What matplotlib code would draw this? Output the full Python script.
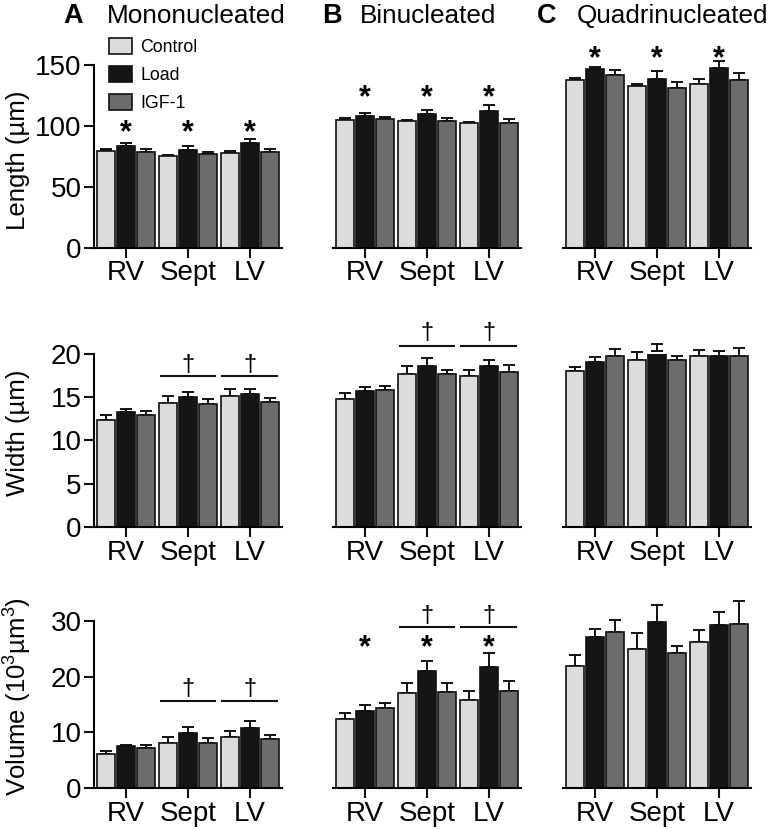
import matplotlib
matplotlib.use("Agg")
import matplotlib.pyplot as plt
import numpy as np

plt.rcParams['font.family'] = ['Liberation Sans', 'DejaVu Sans']
plt.rcParams['mathtext.fontset'] = 'custom'
plt.rcParams['mathtext.rm'] = 'Liberation Sans'
plt.rcParams['mathtext.it'] = 'Liberation Sans:italic'
plt.rcParams['mathtext.bf'] = 'Liberation Sans:bold'

groups = ['RV', 'Sept', 'LV']
series = ['Control', 'Load', 'IGF-1']
colors = ['#dcdcdc', '#151515', '#6c6c6c']

# Length (µm)
len_mono = [[79.5, 75.4, 77.6], [83.6, 80.3, 85.8], [78.7, 77.3, 78.4]]
len_mono_err = [[2.0, 0.8, 1.9], [2.2, 3.3, 3.3], [2.2, 1.4, 2.5]]
len_bi = [[104.9, 103.8, 102.2], [108.4, 109.6, 112.3], [105.5, 104.4, 102.7]]
len_bi_err = [[1.9, 1.1, 1.1], [2.5, 3.5, 4.7], [1.9, 2.4, 3.0]]
len_quad = [[137.7, 132.8, 134.4], [146.4, 138.8, 147.5], [141.8, 131.1, 137.4]]
len_quad_err = [[1.6, 1.6, 3.9], [2.2, 6.3, 6.0], [3.8, 5.2, 6.3]]

# Width (µm)
wid_mono = [[12.4, 14.3, 15.2], [13.3, 15.0, 15.4], [13.0, 14.2, 14.4]]
wid_mono_err = [[0.6, 0.8, 0.8], [0.3, 0.6, 0.5], [0.4, 0.6, 0.55]]
wid_bi = [[14.8, 17.7, 17.4], [15.7, 18.6, 18.6], [15.85, 17.65, 17.96]]
wid_bi_err = [[0.65, 0.9, 0.75], [0.5, 0.9, 0.7], [0.4, 0.55, 0.75]]
wid_quad = [[18.0, 19.3, 19.8], [19.1, 20.35, 19.8], [19.8, 19.3, 19.8]]
wid_quad_err = [[0.5, 0.9, 0.7], [0.5, 0.75, 0.6], [0.8, 0.5, 0.9]]

# Volume (10^3 µm^3)
vol_mono = [[6.1, 8.1, 9.2], [7.5, 9.8, 10.8], [7.1, 8.0, 8.8]]
vol_mono_err = [[0.5, 1.0, 1.0], [0.25, 1.15, 1.2], [0.6, 0.9, 0.8]]
vol_bi = [[12.4, 17.1, 15.8], [13.8, 21.0, 21.7], [14.4, 17.3, 17.5]]
vol_bi_err = [[1.05, 1.8, 1.6], [1.2, 1.9, 2.6], [0.9, 1.5, 1.7]]
vol_quad = [[22.0, 24.9, 26.25], [27.1, 29.9, 29.3], [28.0, 24.3, 29.4]]
vol_quad_err = [[1.9, 2.9, 2.05], [1.4, 3.0, 2.3], [2.2, 1.2, 4.2]]

row_labels = ['Length (µm)', 'Width (µm)', r'Volume (10$^{3}$µm$^{3}$)']
row_ylims = [150, 20, 30]
row_yticks = [[0, 50, 100, 150], [0, 5, 10, 15, 20], [0, 10, 20, 30]]
panel_letters = ['A', 'B', 'C']
panel_titles = ['Mononucleated', 'Binucleated', 'Quadrinucleated']

data = [
    [(len_mono, len_mono_err), (len_bi, len_bi_err), (len_quad, len_quad_err)],
    [(wid_mono, wid_mono_err), (wid_bi, wid_bi_err), (wid_quad, wid_quad_err)],
    [(vol_mono, vol_mono_err), (vol_bi, vol_bi_err), (vol_quad, vol_quad_err)],
]

# significance marks: (row, col) -> list of (group index, y)
stars = {
    (0, 0): [(0, 101.5), (1, 101.5), (2, 101.5)],
    (0, 1): [(0, 130), (1, 130), (2, 130)],
    (0, 2): [(0, 162), (1, 162), (2, 162)],
    (2, 1): [(0, 26.7), (1, 26.7), (2, 26.7)],
}
# daggers: (row, col) -> list of (group index, line y, dagger y)
daggers = {
    (1, 0): [(1, 17.5, 19.0), (2, 17.5, 19.0)],
    (1, 1): [(1, 20.9, 22.8), (2, 20.9, 22.8)],
    (2, 0): [(1, 15.7, 18.3), (2, 15.7, 18.3)],
    (2, 1): [(1, 28.9, 31.4), (2, 28.9, 31.4)],
}

W, H = 769, 830
fig = plt.figure(figsize=(W / 100, H / 100), dpi=100)

col_left_px = [94, 333, 563]
col_w_px = 188
row_px = [(65, 248), (354, 527), (621, 788)]

offsets = [-0.32, 0.0, 0.32]
bar_w = 0.29
x = np.arange(len(groups))

for r in range(3):
    top, bot = row_px[r]
    for c in range(3):
        ax = fig.add_axes([col_left_px[c] / W, 1 - bot / H, col_w_px / W, (bot - top) / H])
        vals, errs = data[r][c]
        handles = []
        for s in range(3):
            eb = ax.errorbar(x + offsets[s], vals[s], yerr=[np.zeros(3), errs[s]], fmt='none',
                             ecolor='#111111', elinewidth=1.4, capsize=4.5, capthick=1.4, zorder=1)
            for art in eb.lines[1] + eb.lines[2]:
                art.set_clip_on(False)
            b = ax.bar(x + offsets[s], vals[s], width=bar_w, color=colors[s],
                       edgecolor='#111111', linewidth=1.2, zorder=2, label=series[s])
            handles.append(b)
        ax.set_xlim(-0.52, 2.52)
        ax.set_ylim(0, row_ylims[r])
        ax.set_xticks(x)
        ax.set_xticklabels(groups)
        for sp in ['top', 'right']:
            ax.spines[sp].set_visible(False)
        ax.spines['bottom'].set_linewidth(1.5)
        ax.spines['left'].set_linewidth(1.5)
        ax.tick_params(axis='both', which='major', direction='out', length=7, width=1.5,
                       labelsize=20, pad=2, color='#111111')
        if c == 0:
            ax.set_yticks(row_yticks[r])
        else:
            ax.spines['left'].set_visible(False)
            ax.set_yticks([])
        for gi, y in stars.get((r, c), []):
            ax.annotate('*', xy=(gi, y), xytext=(0, -6.5), textcoords='offset points',
                        ha='center', va='center', fontsize=22, fontweight='bold',
                        annotation_clip=False)
        for gi, ly, dy in daggers.get((r, c), []):
            ax.plot([gi - 0.46, gi + 0.46], [ly, ly], color='#111111', lw=1.5,
                    clip_on=False, solid_capstyle='butt')
            ax.annotate('†', xy=(gi, dy), xytext=(0, -2), textcoords='offset points',
                        ha='center', va='center', fontsize=17, annotation_clip=False)
        if r == 0 and c == 0:
            ax.legend(handles=handles, loc='upper left',
                      bbox_to_anchor=(109 / W, 1 - 38 / H), bbox_transform=fig.transFigure,
                      frameon=False, fontsize=12.8, handlelength=1.3, handleheight=1.0,
                      labelspacing=0.55, handletextpad=0.45, borderpad=0, borderaxespad=0)

# y labels
label_y_px = [160, 433, 697]
for r in range(3):
    fig.text(18 / W, 1 - label_y_px[r] / H, row_labels[r], rotation=90, ha='center',
             va='center', fontsize=18.5)

# panel titles
letter_x = [63, 322, 537]
title_x = [107, 360, 577]
for c in range(3):
    fig.text(letter_x[c] / W, 1 - 23 / H, panel_letters[c], fontsize=19.5, fontweight='bold',
             ha='left', va='baseline')
    fig.text(title_x[c] / W, 1 - 23 / H, panel_titles[c], fontsize=18.8,
             ha='left', va='baseline')

fig.savefig('out.png', dpi=100, facecolor='white')
